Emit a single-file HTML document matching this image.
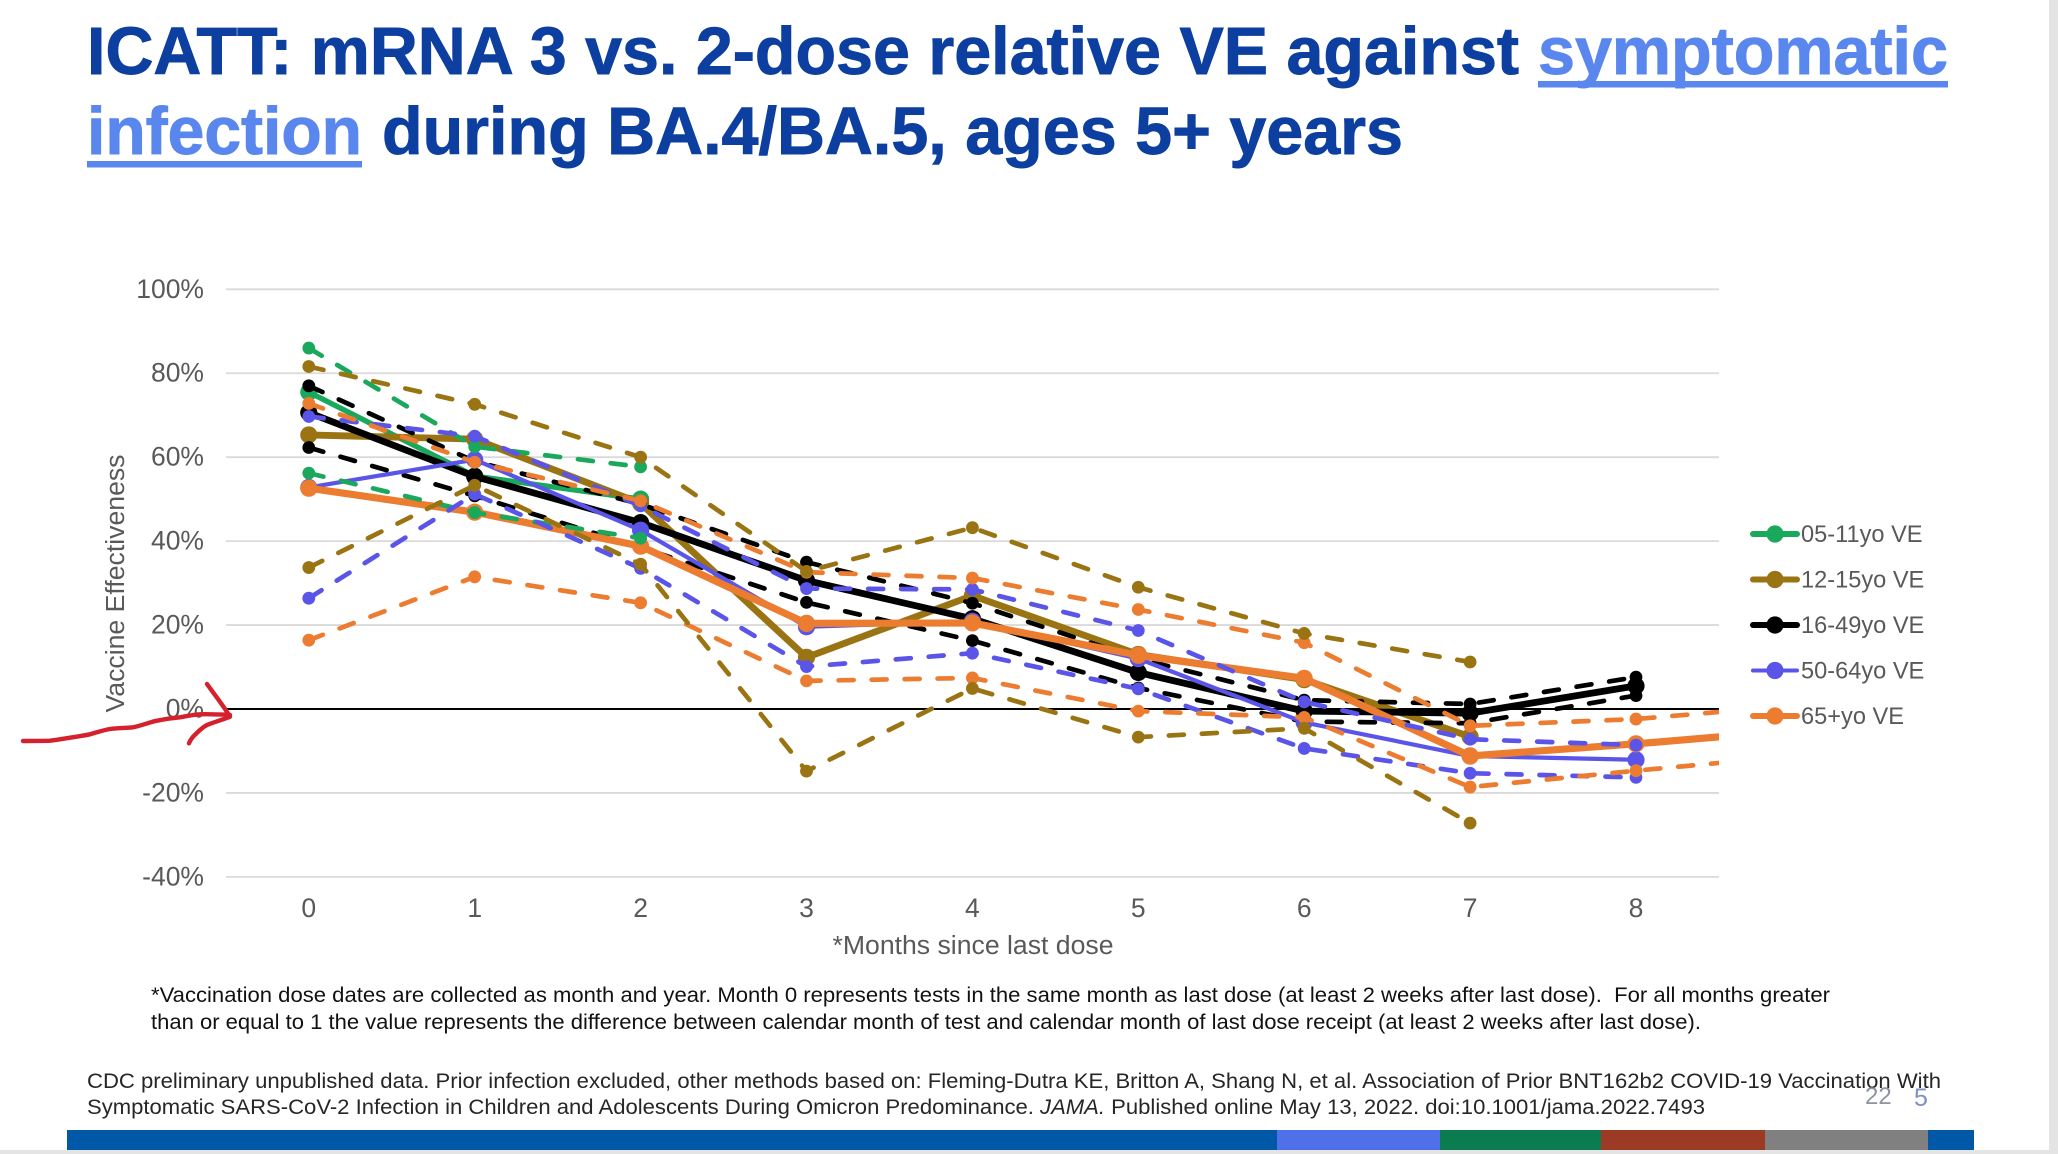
<!DOCTYPE html>
<html lang="en">
<head>
<meta charset="utf-8">
<title>ICATT: mRNA 3 vs. 2-dose relative VE</title>
<style>
  html, body { margin: 0; padding: 0; background: #fff; }
  body { width: 2058px; height: 1154px; overflow: hidden; }
  svg { display: block; font-family: "Liberation Sans", sans-serif; }
  .title { font-size: 67px; font-weight: 700; fill: #0c3f9f; stroke: #0c3f9f; stroke-width: 0.9px; }
  .title-link { font-size: 67px; font-weight: 700; fill: #5a87ee; stroke: #5a87ee; stroke-width: 0.9px; }
  .note { font-size: 21px; fill: #111; white-space: pre; }
  .source { font-size: 21px; fill: #262626; }
  .tick { font-size: 26.5px; fill: #595959; }
  .axis-title { font-size: 25.5px; fill: #595959; }
  .legend-label { font-size: 23.6px; fill: #595959; }
</style>
</head>
<body>
<svg id="slide-svg" width="2058" height="1154" viewBox="0 0 2058 1154" xmlns="http://www.w3.org/2000/svg">
  <defs>
    <clipPath id="plot-clip"><rect x="226" y="260" width="1493" height="660"/></clipPath>
  </defs>
  <rect x="0" y="0" width="2058" height="1154" fill="#ffffff"/>
  <rect x="2049" y="0" width="9" height="1154" fill="#e4e4e4"/>
  <rect x="0" y="1150" width="2058" height="4" fill="#e4e4e4"/>

  <g>
    <text class="title" x="87" y="74" textLength="1432" lengthAdjust="spacingAndGlyphs">ICATT: mRNA 3 vs. 2-dose relative VE against</text>
    <text class="title-link" x="1538" y="74" textLength="410" lengthAdjust="spacingAndGlyphs">symptomatic</text>
    <rect x="1538" y="81" width="410" height="6.5" fill="#5a87ee"/>
    <text class="title-link" x="87" y="154" textLength="275" lengthAdjust="spacingAndGlyphs">infection</text>
    <rect x="87" y="161" width="275" height="6.5" fill="#5a87ee"/>
    <text class="title" x="382" y="154" textLength="1021" lengthAdjust="spacingAndGlyphs">during BA.4/BA.5, ages 5+ years</text>
  </g>

  <g id="chart"></g>

  <g fill="none" stroke="#d5202e" stroke-width="4.4" stroke-linecap="round" stroke-linejoin="round">
    <path d="M23 741 C35 741 44 741 50 740.7 C60 739.5 68 738 70 737.7 C78 736.5 84 735.5 90 734.3 C98 732 104 730 110 729 C118 728 126 728 133 727.3 C142 725.5 150 722 157 720.7 C165 719 172 718 180 717.3 C188 716 194 714.5 200 714.3 C210 714 220 714.5 230 715"/>
    <path d="M207 684 C214 694 223 705 230 716.7 C222 720 214 722 207 725 C201 728 197 733 193 736.7 C191 739 190 741 189 743.3"/>
  </g>

  <g>
    <text class="note" x="151" y="1002" textLength="1679" lengthAdjust="spacingAndGlyphs">*Vaccination dose dates are collected as month and year. Month 0 represents tests in the same month as last dose (at least 2 weeks after last dose).  For all months greater</text>
    <text class="note" x="151" y="1029" textLength="1550" lengthAdjust="spacingAndGlyphs">than or equal to 1 the value represents the difference between calendar month of test and calendar month of last dose receipt (at least 2 weeks after last dose).</text>
  </g>
  <g>
    <text class="source" x="87" y="1088" textLength="1854" lengthAdjust="spacingAndGlyphs">CDC preliminary unpublished data. Prior infection excluded, other methods based on: Fleming-Dutra KE, Britton A, Shang N, et al. Association of Prior BNT162b2 COVID-19 Vaccination With</text>
    <text class="source" x="87" y="1114" textLength="1618" lengthAdjust="spacingAndGlyphs">Symptomatic SARS-CoV-2 Infection in Children and Adolescents During Omicron Predominance. <tspan font-style="italic">JAMA.</tspan> Published online May 13, 2022. doi:10.1001/jama.2022.7493</text>
  </g>
  <text x="1865" y="1104" font-size="24" fill="#8e93a3">22</text>
  <text x="1914" y="1106" font-size="25" fill="#7f90c4">5</text>

  <g>
    <rect x="67" y="1130" width="1210" height="20" fill="#0058a6"/>
    <rect x="1277" y="1130" width="163" height="20" fill="#4f70e8"/>
    <rect x="1440" y="1130" width="161" height="20" fill="#0b7b50"/>
    <rect x="1601" y="1130" width="164" height="20" fill="#9b3b25"/>
    <rect x="1765" y="1130" width="163" height="20" fill="#808080"/>
    <rect x="1928" y="1130" width="46" height="20" fill="#0058a6"/>
  </g>
</svg>

<script>
// ---- chart data (percent vaccine effectiveness by months since last dose) ----
const monthLabels = ["0", "1", "2", "3", "4", "5", "6", "7", "8"];
const yTickValues = [100, 80, 60, 40, 20, 0, -20, -40];

const ve0511 = [75.5, 55.5, 50];
const ve0511Upper = [86, 62.5, 57.7];
const ve0511Lower = [56.2, 46.8, 40.7];

const ve1215 = [65.3, 64.3, 49, 12.3, 27, 13, 7, -6.6];
const ve1215Upper = [81.6, 72.6, 60, 32.8, 43.2, 29, 18, 11.2];
const ve1215Lower = [33.7, 53.3, 34.5, -14.8, 4.9, -6.7, -4.6, -27.2];

const ve1649 = [70.6, 55.4, 44.4, 30.6, 21.5, 8.7, -0.5, -1, 5.5];
const ve1649Upper = [77, 59, 48.8, 35, 25.2, 12, 2.1, 1.2, 7.6];
const ve1649Lower = [62.3, 50.8, 38.5, 25.4, 16.3, 5, -3, -3.4, 3.2];

const ve5064 = [52.8, 59.4, 42.6, 19.6, 20.9, 12, -3.2, -11.2, -12.1];
const ve5064Upper = [69.7, 65, 48.4, 28.7, 28.5, 18.7, 1.7, -7.2, -8.6];
const ve5064Lower = [26.4, 51.2, 33.5, 10.1, 13.3, 4.8, -9.4, -15.3, -16.3];

const ve65 = [52.6, 46.9, 38.8, 20.4, 20.5, 12.8, 7.3, -11.2, -8.3, -5];
const ve65Upper = [72.8, 58.8, 49.6, 32.6, 31.2, 23.7, 15.8, -4, -2.4, 1];
const ve65Lower = [16.4, 31.5, 25.3, 6.7, 7.4, -0.5, -2, -18.6, -14.7, -11];

const legendLabels = ["05-11yo VE", "12-15yo VE", "16-49yo VE", "50-64yo VE", "65+yo VE"];
const seriesIds = ["05-11yo", "12-15yo", "16-49yo", "50-64yo", "65plus"];
const seriesMain = [ve0511, ve1215, ve1649, ve5064, ve65];
const seriesUpper = [ve0511Upper, ve1215Upper, ve1649Upper, ve5064Upper, ve65Upper];
const seriesLower = [ve0511Lower, ve1215Lower, ve1649Lower, ve5064Lower, ve65Lower];

// ---- styles and axis functions ----
const colors = ["#1aa85c", "#9a7412", "#000000", "#5a55e8", "#ec7c30"];
const solidWidths = [5.4, 6.8, 6.8, 4.2, 7.2];
const SVG_NS = "http://www.w3.org/2000/svg";
const chart = document.getElementById("chart");
const plotLeft = 226;
const plotRight = 1719;

function xScale(month) {
  return 308.8 + month * 165.9;
}
function yScale(value) {
  return 709 - value * 4.197;
}
function make(tag, attrs, parent) {
  const el = document.createElementNS(SVG_NS, tag);
  for (const key in attrs) {
    el.setAttribute(key, attrs[key]);
  }
  parent.appendChild(el);
  return el;
}
function pointsFor(values) {
  return values.map(function (v, i) { return xScale(i) + "," + yScale(v); }).join(" ");
}

// ---- gridlines and y ticks ----
const gridGroup = make("g", {}, chart);


const yTickGroup = make("g", {}, chart);



yTickValues.filter(function (v) { return v !== 0; }).forEach(function (v) {
  const line = make("line", { x1: plotLeft, x2: plotRight, y1: yScale(v), y2: yScale(v), stroke: "#dadada", "stroke-width": 1.8 }, gridGroup);
  
  
});
yTickValues.forEach(function (v) {
  const label = make("text", { x: 204, y: yScale(v) + 8.5, "text-anchor": "end", class: "tick" }, yTickGroup);
  label.textContent = v + "%";
  
  
});

const zeroLine = make("line", { x1: plotLeft, x2: plotRight, y1: yScale(0), y2: yScale(0), stroke: "#000000", "stroke-width": 2 }, chart);



// ---- x ticks and axis titles ----
const xTickGroup = make("g", {}, chart);


monthLabels.forEach(function (m, i) {
  const label = make("text", { x: xScale(i), y: 917, "text-anchor": "middle", class: "tick" }, xTickGroup);
  label.textContent = m;
  
  
});

const xTitle = make("text", { x: 973, y: 954, "text-anchor": "middle", class: "axis-title", textLength: 281, lengthAdjust: "spacingAndGlyphs" }, chart);
xTitle.textContent = "*Months since last dose";



const yTitle = make("text", { x: 0, y: 0, transform: "translate(124 583.5) rotate(-90)", "text-anchor": "middle", class: "axis-title", textLength: 258, lengthAdjust: "spacingAndGlyphs" }, chart);
yTitle.textContent = "Vaccine Effectiveness";



// ---- series ----
const plotGroup = make("g", { "clip-path": "url(#plot-clip)" }, chart);



function drawSeries(values, color, width, radius, dashed, name) {
  const group = make("g", {}, plotGroup);
  
  
  const attrs = { points: pointsFor(values), fill: "none", stroke: color, "stroke-width": width, "stroke-linejoin": "round", "stroke-linecap": dashed ? "round" : "butt" };
  if (dashed) {
    attrs["stroke-dasharray"] = "15 18";
  }
  const line = make("polyline", attrs, group);
  
  
  values.forEach(function (v, i) {
    const dot = make("circle", { cx: xScale(i), cy: yScale(v), r: radius, fill: color }, group);
    
    
  });
}
function drawMain(i) {
  drawSeries(seriesMain[i], colors[i], solidWidths[i], 8.6, false, "series-" + seriesIds[i]);
}
function drawBounds(i) {
  drawSeries(seriesUpper[i], colors[i], 4.7, 6.4, true, "series-" + seriesIds[i] + "-upper-bound");
  drawSeries(seriesLower[i], colors[i], 4.7, 6.4, true, "series-" + seriesIds[i] + "-lower-bound");
}

// paint order
drawMain(0);
drawMain(1);
drawBounds(2);
drawMain(2);
drawMain(3);
drawMain(4);
drawBounds(0);
drawBounds(3);
drawBounds(4);
drawBounds(1);

// ---- legend ----
const legendGroup = make("g", {}, chart);


legendLabels.forEach(function (text, i) {
  const rowY = 534 + i * 45.5;
  const entry = make("g", {}, legendGroup);
  
  
  const swatch = make("line", { x1: 1753, x2: 1797, y1: rowY, y2: rowY, stroke: colors[i], "stroke-width": i === 3 ? 4 : 6, "stroke-linecap": "round" }, entry);
  
  
  const dot = make("circle", { cx: 1775, cy: rowY, r: 8.6, fill: colors[i] }, entry);
  
  
  const label = make("text", { x: 1801, y: rowY + 8, class: "legend-label" }, entry);
  label.textContent = text;
  
  
});
</script>
</body>
</html>
